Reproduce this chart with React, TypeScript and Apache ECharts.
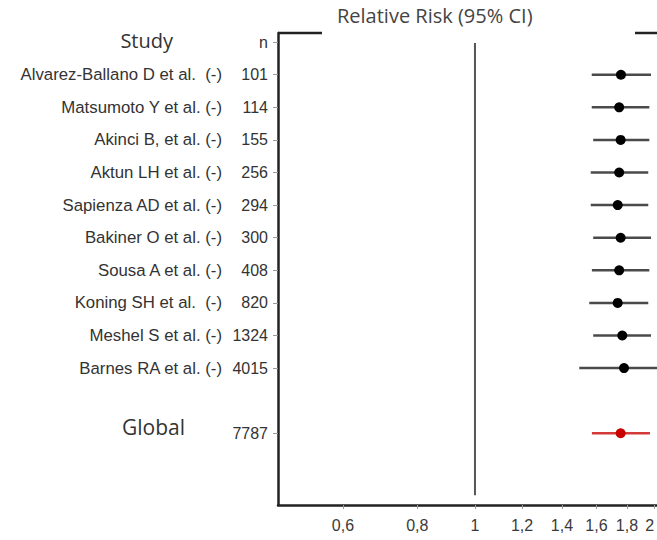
import React, { useEffect, useRef } from "react";
import * as echarts from "echarts";

const studies = [
  "Alvarez-Ballano D et al.  (-)",
  "Matsumoto Y et al. (-)",
  "Akinci B, et al. (-)",
  "Aktun LH et al. (-)",
  "Sapienza AD et al. (-)",
  "Bakiner O et al. (-)",
  "Sousa A et al. (-)",
  "Koning SH et al.  (-)",
  "Meshel S et al. (-)",
  "Barnes RA et al. (-)",
];
const counts = [101, 114, 155, 256, 294, 300, 408, 820, 1324, 4015];
const rr = [1.759, 1.747, 1.757, 1.747, 1.737, 1.757, 1.747, 1.737, 1.768, 1.78];
const ciLow = [1.571, 1.571, 1.58, 1.565, 1.565, 1.58, 1.572, 1.556, 1.58, 1.497];
const ciHigh = [1.976, 1.963, 1.963, 1.955, 1.955, 1.976, 1.963, 1.955, 1.976, 2.12];

const globalLabel = "Global";
const globalN = 7787;
const globalRR = 1.757;
const globalLow = 1.572;
const globalHigh = 1.968;

const xTicks = [0.6, 0.8, 1, 1.2, 1.4, 1.6, 1.8, 2];
const headerN = "n";
const headerStudy = "Study";
const title = "Relative Risk (95% CI)";

const GLOBAL_ROW = 12;

export default function App() {
  const ref = useRef<HTMLDivElement>(null);
  useEffect(() => {
    if (!ref.current) return;
    const chart = echarts.init(ref.current, null, { renderer: "svg" });

    const rows = studies.map((_, i) => i + 1);
    const labelRows = [0, ...rows, GLOBAL_ROW];
    const nLabels: Record<number, string> = { 0: headerN, [GLOBAL_ROW]: String(globalN) };
    rows.forEach((r, i) => (nLabels[r] = String(counts[i])));
    const nameLabels: Record<number, string> = {
      0: "{hd|" + headerStudy + "}",
      [GLOBAL_ROW]: "{gl|" + globalLabel + "}",
    };
    rows.forEach((r, i) => (nameLabels[r] = studies[i]));

    const data = rows.map((r, i) => [
      Math.log(rr[i]),
      r,
      Math.log(ciLow[i]),
      Math.log(ciHigh[i]),
      0,
    ]);
    data.push([Math.log(globalRR), GLOBAL_ROW, Math.log(globalLow), Math.log(globalHigh), 1]);

    const lnTicks = xTicks.map((t) => Math.log(t));
    const fmtX = (v: number) => {
      const t = Math.round(Math.exp(v) * 10) / 10;
      return String(t).replace(".", ",");
    };

    const yBase = {
      type: "value" as const,
      inverse: true,
      min: -0.28,
      max: 14.2,
      splitLine: { show: false },
    };

    chart.setOption({
      animation: false,
      grid: {
        left: 278,
        top: 33,
        right: 0,
        bottom: 35,
        containLabel: false,
        outerBoundsMode: "none",
      },
      xAxis: {
        type: "value",
        position: "bottom",
        min: -0.762,
        max: 0.7042,
        splitLine: { show: false },
        axisLine: { show: true, onZero: false, lineStyle: { color: "#222", width: 2.5 } },
        axisTick: {
          show: true,
          customValues: lnTicks,
          length: 4,
          lineStyle: { color: "#999", width: 1 },
        },
        axisLabel: {
          customValues: lnTicks,
          formatter: (v: number) => fmtX(v),
          fontFamily: "Liberation Sans",
          fontSize: 16,
          color: "#3a3a3a",
          margin: 12,
          alignMaxLabel: "right",
        },
      },
      yAxis: [
        {
          ...yBase,
          position: "left",
          axisLine: { show: true, onZero: false, lineStyle: { color: "#222", width: 2.5 } },
          axisTick: {
            show: true,
            customValues: labelRows,
            length: 5,
            lineStyle: { color: "#999", width: 1 },
          },
          axisLabel: {
            customValues: labelRows,
            formatter: (v: number) => nLabels[v] ?? "",
            fontFamily: "Liberation Sans",
            fontSize: 16,
            color: "#333",
            margin: 10,
          },
        },
        {
          ...yBase,
          position: "left",
          axisLine: { show: false },
          axisTick: { show: false },
          axisLabel: {
            customValues: labelRows,
            formatter: (v: number) => nameLabels[v] ?? "",
            fontFamily: "Liberation Sans",
            fontSize: 16.8,
            color: "#333",
            margin: 56,
            rich: {
              hd: {
                fontFamily: "Open Sans",
                fontSize: 20,
                color: "#333",
                padding: [0, 49, 4, 0],
              },
              gl: {
                fontFamily: "Open Sans",
                fontSize: 21,
                color: "#333",
                padding: [0, 37, 12, 0],
              },
            },
          },
        },
      ],
      graphic: [
        {
          type: "line",
          shape: { x1: 278, y1: 33, x2: 322, y2: 33 },
          style: { stroke: "#222", lineWidth: 2.5 },
        },
        {
          type: "line",
          shape: { x1: 635, y1: 33, x2: 660, y2: 33 },
          style: { stroke: "#222", lineWidth: 2.5 },
        },
        {
          type: "text",
          left: 337,
          top: 5,
          style: {
            text: title,
            font: '20px "Open Sans"',
            fill: "#444",
          },
        },
      ],
      series: [
        {
          type: "line",
          xAxisIndex: 0,
          yAxisIndex: 0,
          data: [
            [0, 0.03],
            [0, 13.9],
          ],
          symbol: "none",
          lineStyle: { color: "#555", width: 2 },
          silent: true,
        },
        {
          type: "custom",
          xAxisIndex: 0,
          yAxisIndex: 0,
          encode: { x: [0, 2, 3], y: 1 },
          data,
          clip: false,
          renderItem: (params: any, api: any) => {
            const y = api.value(1);
            const p = api.coord([api.value(0), y]);
            const lo = api.coord([api.value(2), y]);
            const hi = api.coord([api.value(3), y]);
            const isGlobal = api.value(4) === 1;
            return {
              type: "group",
              children: [
                {
                  type: "line",
                  shape: { x1: lo[0], y1: lo[1], x2: hi[0], y2: hi[1] },
                  style: { stroke: isGlobal ? "#d43a3a" : "#4a4a4a", lineWidth: 2.5 },
                },
                {
                  type: "circle",
                  shape: { cx: p[0], cy: p[1], r: 5 },
                  style: { fill: isGlobal ? "#c80000" : "#000" },
                },
              ],
            };
          },
        },
      ],
    });
    return () => chart.dispose();
  }, []);

  return (
    <div
      ref={ref}
      style={{ position: "fixed", left: 0, top: 0, width: 657, height: 540, background: "#fff" }}
    />
  );
}
